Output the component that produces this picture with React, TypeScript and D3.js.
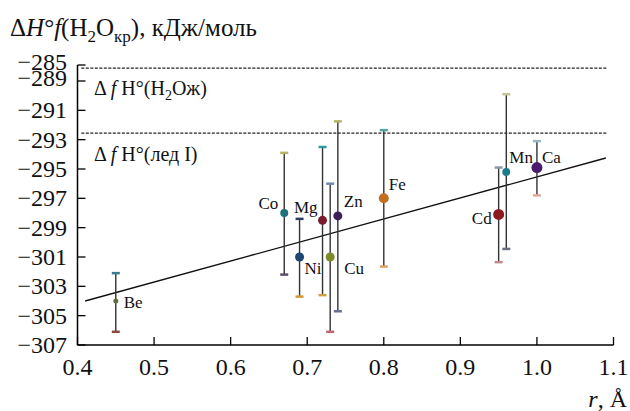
import React from "react";
import * as d3 from "d3";

// ---- data ----
const elements = ["Be", "Co", "Ni", "Mg", "Cu", "Zn", "Fe", "Cd", "Mn", "Ca"];
const ionRadius = [0.45, 0.67, 0.69, 0.72, 0.73, 0.74, 0.8, 0.95, 0.96, 1.0];
const dHf = [-304.0, -298.0, -301.0, -298.5, -301.0, -298.2, -297.0, -298.1, -295.2, -294.9];
const dHfUpper = [-302.1, -293.9, -298.4, -293.5, -296.0, -291.75, -292.35, -294.9, -289.9, -293.1];
const dHfLower = [-306.1, -302.2, -303.7, -303.6, -306.1, -304.7, -301.65, -301.35, -300.45, -296.8];

const fitX = [0.41, 1.09];
const fitY = [-304.0, -294.25];

const refLiquid = -285.8;
const refIce = -292.55;
const refXRange = [0.405, 1.092];

const xTicks = [0.4, 0.5, 0.6, 0.7, 0.8, 0.9, 1.0, 1.1];
const yTicks = [-285, -289, -291, -293, -295, -297, -299, -301, -303, -305, -307];

// ---- styles ----
const markerColor = ["#5f7040", "#1f6f7c", "#1f4670", "#7a1a2c", "#7c8a2c", "#3b1f5c", "#c0701f", "#8c1a1f", "#1a7a8a", "#4a1c6c"];
const capTopColor = ["#3a7a8c", "#b4b464", "#2e3c5c", "#2a9c9c", "#7088a8", "#b4b464", "#50a4a4", "#8898a8", "#c4c494", "#98b8c8"];
const capBotColor = ["#8c4a3a", "#5c4c6c", "#d09a30", "#d0a040", "#c46474", "#6a7090", "#e0a060", "#c48888", "#6a7080", "#e4a898"];
const markerR = [2.5, 4, 4.5, 4.5, 4.5, 4.5, 5, 5.5, 4, 5.5];
// label offsets [dx, dy, anchor]
const labelPos: [number, number, string][] = [
  [8, 7, "start"],
  [-6, -4, "end"],
  [5, 17, "start"],
  [-5, -7, "end"],
  [14, 17, "start"],
  [6, -9, "start"],
  [5, -8, "start"],
  [-7, 10, "end"],
  [3, -9, "start"],
  [5, -5, "start"],
];

const FONT = "Liberation Serif, DejaVu Serif, serif";
const ts = { fontFamily: FONT };

export default function App() {
  const x = d3.scaleLinear().domain([0.4, 1.1]).range([77.5, 613.5]);
  const y = d3.scaleLinear().domain([-307, -289, -285]).range([345, 81, 65]);
  const fitLine = d3
    .line<number>()
    .x((_, i) => x(fitX[i]))
    .y((d) => y(d))(fitY);

  return (
    <svg
      width={630}
      height={411}
      style={{ position: "absolute", left: 0, top: 0, background: "#fff", fontFamily: FONT }}
    >
      {/* title */}
      <text x={10} y={36} fontSize={25} fill="#111" style={ts}>
        <tspan>Δ</tspan>
        <tspan fontStyle="italic">H</tspan>
        <tspan>°</tspan>
        <tspan fontStyle="italic">f</tspan>
        <tspan>(H</tspan>
        <tspan fontSize={17} dy={6}>2</tspan>
        <tspan dy={-6}>O</tspan>
        <tspan fontSize={17} dy={6}>кр</tspan>
        <tspan dy={-6}>), кДж/моль</tspan>
      </text>

      {/* reference dashed lines */}
      <line x1={x(refXRange[0])} x2={x(refXRange[1])} y1={y(refLiquid)} y2={y(refLiquid)} stroke="#222" strokeWidth={1.2} strokeDasharray="3,1.5" />
      <line x1={x(refXRange[0])} x2={x(refXRange[1])} y1={y(refIce)} y2={y(refIce)} stroke="#222" strokeWidth={1.2} strokeDasharray="3,1.5" />
      <text x={94} y={y(refLiquid) + 27} fontSize={20} fill="#111" style={ts}>
        <tspan>Δ </tspan>
        <tspan fontStyle="italic">f</tspan>
        <tspan> H°(H</tspan>
        <tspan fontSize={14} dy={5}>2</tspan>
        <tspan dy={-5}>Oж)</tspan>
      </text>
      <text x={94} y={y(refIce) + 28} fontSize={20} fill="#111" style={ts}>
        <tspan>Δ </tspan>
        <tspan fontStyle="italic">f</tspan>
        <tspan> H°(лед I)</tspan>
      </text>

      {/* axes */}
      <line x1={x(0.4)} x2={x(0.4)} y1={y(-285)} y2={y(-307)} stroke="#000" strokeWidth={1.5} />
      <line x1={x(0.4)} x2={x(1.1)} y1={y(-307)} y2={y(-307)} stroke="#000" strokeWidth={1.5} />
      {yTicks.map((t) => (
        <g key={"y" + t}>
          <line x1={x(0.4)} x2={x(0.4) + 8} y1={y(t)} y2={y(t)} stroke="#000" strokeWidth={1.3} />
          <text x={67} y={y(t) + (t >= -289 ? 5 : 8)} textAnchor="end" fontSize={24} fill="#111" style={ts}>
            {"−" + Math.abs(t)}
          </text>
        </g>
      ))}
      {xTicks.map((t) => (
        <g key={"x" + t}>
          <line x1={x(t)} x2={x(t)} y1={y(-307)} y2={y(-307) - 8} stroke="#000" strokeWidth={1.3} />
          <text x={x(t)} y={y(-307) + 30} textAnchor="middle" fontSize={24} fill="#111" style={ts}>
            {t.toFixed(1)}
          </text>
        </g>
      ))}
      <text x={627} y={407} textAnchor="end" fontSize={24} fill="#111" style={ts}>
        <tspan fontStyle="italic">r</tspan>
        <tspan>, Å</tspan>
      </text>

      {/* regression line */}
      <path d={fitLine ?? ""} fill="none" stroke="#111" strokeWidth={1.4} />

      {/* error bars & points */}
      {elements.map((el, i) => {
        const cx = x(ionRadius[i]);
        return (
          <g key={el}>
            <line x1={cx} x2={cx} y1={y(dHfUpper[i])} y2={y(dHfLower[i])} stroke="#333" strokeWidth={1.4} />
            <line x1={cx - 4} x2={cx + 4} y1={y(dHfUpper[i])} y2={y(dHfUpper[i])} stroke={capTopColor[i]} strokeWidth={2.5} />
            <line x1={cx - 4} x2={cx + 4} y1={y(dHfLower[i])} y2={y(dHfLower[i])} stroke={capBotColor[i]} strokeWidth={2.5} />
            <circle cx={cx} cy={y(dHf[i])} r={markerR[i]} fill={markerColor[i]} />
            <text
              x={cx + labelPos[i][0]}
              y={y(dHf[i]) + labelPos[i][1]}
              textAnchor={labelPos[i][2] as any}
              fontSize={17}
              fill="#111"
              style={ts}
            >
              {el}
            </text>
          </g>
        );
      })}
    </svg>
  );
}
